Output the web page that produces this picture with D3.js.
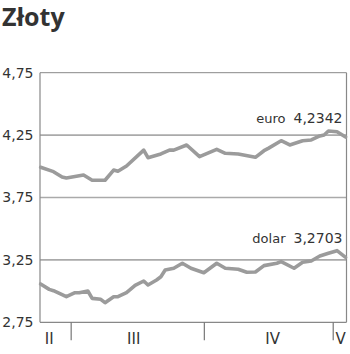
<!DOCTYPE html>
<html><head><meta charset="utf-8">
<script src="https://cdn.jsdelivr.net/npm/d3@7"></script>
<style>
html,body{margin:0;padding:0;background:#fff;}
svg{display:block;}
</style></head>
<body>
<script>
// ---- data ----
const title = "Złoty";
const eurDates = ["2005-02-22","2005-02-25","2005-02-27","2005-02-28","2005-03-04","2005-03-06","2005-03-09","2005-03-11","2005-03-12","2005-03-14","2005-03-18","2005-03-19","2005-03-22","2005-03-24","2005-03-25","2005-03-28","2005-03-31","2005-04-04","2005-04-06","2005-04-09","2005-04-13","2005-04-15","2005-04-16","2005-04-19","2005-04-21","2005-04-24","2005-04-26","2005-04-28","2005-04-29","2005-04-30","2005-05-02","2005-05-04"];
const eurValues = [3.992,3.957,3.914,3.906,3.930,3.888,3.888,3.970,3.960,4.002,4.130,4.069,4.099,4.130,4.130,4.171,4.077,4.136,4.104,4.099,4.072,4.125,4.144,4.205,4.171,4.205,4.211,4.243,4.251,4.283,4.277,4.2342];
const usdDates = ["2005-02-22","2005-02-24","2005-02-25","2005-02-27","2005-02-28","2005-03-02","2005-03-03","2005-03-05","2005-03-06","2005-03-08","2005-03-09","2005-03-11","2005-03-12","2005-03-14","2005-03-16","2005-03-18","2005-03-19","2005-03-21","2005-03-22","2005-03-23","2005-03-25","2005-03-27","2005-03-29","2005-04-01","2005-04-04","2005-04-06","2005-04-09","2005-04-11","2005-04-13","2005-04-15","2005-04-18","2005-04-19","2005-04-22","2005-04-24","2005-04-26","2005-04-28","2005-04-30","2005-05-02","2005-05-04"];
const usdValues = [3.057,3.014,3.003,2.971,2.955,2.987,2.987,3.001,2.942,2.934,2.907,2.955,2.955,2.987,3.046,3.081,3.049,3.089,3.115,3.169,3.183,3.223,3.183,3.147,3.223,3.183,3.175,3.151,3.153,3.204,3.223,3.236,3.183,3.231,3.241,3.281,3.303,3.324,3.2703];
const seriesNames = ["euro","dolar"];
const lastLabels = ["4,2342","3,2703"];
const yTicks = [2.75,3.25,3.75,4.25,4.75];
const yTickLabels = ["2,75","3,25","3,75","4,25","4,75"];
const monthStarts = ["2005-03-01","2005-04-01","2005-05-01"];
const monthLabels = ["II","III","IV","V"];
const monthLabelDates = ["2005-02-24T00:00","2005-03-15T16:00","2005-04-17T00:00","2005-05-02T20:00"];
const xDomain = ["2005-02-22","2005-05-04"];

// ---- drawing ----
const W = 350, H = 354;
const L = 40, R = 346.5, T = 72.7, B = 322.3;
const parse = s => new Date(s.length > 10 ? s : s + "T00:00");
const svg = d3.select("body").append("svg").attr("width", W).attr("height", H);

const x = d3.scaleTime().domain(xDomain.map(parse)).range([40.6, 345.6]);
const y = d3.scaleLinear().domain([2.75, 4.75]).range([B, T]);

svg.append("text").attr("x", 2).attr("y", 26)
  .attr("font-family", "'Open Sans', 'Noto Sans', sans-serif").attr("font-weight", 700)
  .attr("font-size", 25).attr("fill", "#333").text(title);

// gridlines
svg.append("g").selectAll("line").data(yTicks.filter(v => v > 2.75 && v < 4.75)).join("line")
  .attr("x1", L).attr("x2", R).attr("y1", d => y(d)).attr("y2", d => y(d))
  .attr("stroke", "#aaa").attr("stroke-width", 1.6);

// y axis labels
const ya = svg.append("g").attr("transform", `translate(${L},0)`)
  .call(d3.axisLeft(y).tickValues(yTicks).tickSize(0).tickPadding(6.5)
    .tickFormat((d, i) => yTickLabels[i]));
ya.select(".domain").remove();
ya.selectAll("text").attr("font-family", "'DejaVu Sans', sans-serif").attr("font-size", 14).attr("fill", "#333");

// frame
const fr = svg.append("g").attr("stroke", "#888").attr("fill", "none");
fr.append("line").attr("x1", L).attr("x2", R).attr("y1", T).attr("y2", T).attr("stroke-width", 1);
fr.append("line").attr("x1", L).attr("x2", L).attr("y1", T).attr("y2", B).attr("stroke-width", 1.2);
fr.append("line").attr("x1", R).attr("x2", R).attr("y1", T).attr("y2", B).attr("stroke-width", 1.2);
fr.append("line").attr("x1", L).attr("x2", R).attr("y1", B).attr("y2", B).attr("stroke-width", 1.2);

// x axis ticks
const xa = svg.append("g").attr("transform", `translate(0,${B})`)
  .call(d3.axisBottom(x).tickValues(monthStarts.map(parse)).tickSize(18).tickFormat(""));
xa.select(".domain").remove();
xa.selectAll("line").attr("stroke", "#777").attr("stroke-width", 1.2);

svg.append("g").selectAll("text").data(monthLabels).join("text")
  .attr("x", (d, i) => x(parse(monthLabelDates[i]))).attr("y", 344.3)
  .attr("text-anchor", "middle").attr("font-family", "'DejaVu Sans', sans-serif")
  .attr("font-size", 15).attr("fill", "#333").text(d => d);

// lines
const line = d3.line().x(d => x(d.date)).y(d => y(d.v)).curve(d3.curveLinear);
const series = [
  eurDates.map((d, i) => ({date: parse(d), v: eurValues[i]})),
  usdDates.map((d, i) => ({date: parse(d), v: usdValues[i]}))
];
svg.append("g").selectAll("path").data(series).join("path")
  .attr("d", line).attr("fill", "none").attr("stroke", "#9b9b9b")
  .attr("stroke-width", 3.6).attr("stroke-linejoin", "round").attr("stroke-linecap", "round");

// end labels
const labelY = [123.3, 242.7];
seriesNames.forEach((name, i) => {
  const t = svg.append("text").attr("x", 342.5).attr("y", labelY[i]).attr("text-anchor", "end")
    .attr("font-family", "'DejaVu Sans', sans-serif").attr("fill", "#333");
  t.append("tspan").attr("font-size", 13).text(name);
  t.append("tspan").attr("font-size", 14).attr("dx", 8).text(lastLabels[i]);
});
</script>
</body></html>
